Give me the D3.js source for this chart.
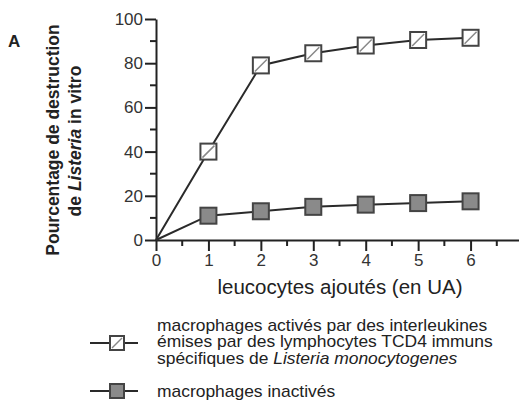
<!DOCTYPE html>
<html>
<head>
<meta charset="utf-8">
<script src="https://d3js.org/d3.v7.min.js"></script>
<style>
  body { margin: 0; background: #fff; }
  svg text { font-family: "Liberation Sans", Arial, sans-serif; fill: #222; }
</style>
</head>
<body>
<script>

// chart values
var doses = [0, 1, 2, 3, 4, 5, 6];
var activated = [0, 40, 79, 84.5, 88, 90.5, 91.5];
var inactivated = [0, 11, 13, 15, 16, 16.7, 17.5];
var xTicks = [0, 1, 2, 3, 4, 5, 6];
var yTicks = [0, 20, 40, 60, 80, 100];
var legendLines = [
  ["macrophages activés par des interleukines"],
  ["émises par des lymphocytes TCD4 immuns"],
  ["spécifiques de ", "Listeria monocytogenes"]
];

var width = 519, height = 404;

var svg = d3.select("body").append("svg")
  .attr("width", width)
  .attr("height", height);

// scales
var x = d3.scaleLinear().domain([0, 7]).range([156, 523]);
var y = d3.scaleLinear().domain([0, 100]).range([240, 19]);

// y axis
var yAxis = svg.append("g")
  .attr("transform", "translate(" + x(0) + ",0)")
  .call(d3.axisLeft(y).tickValues(yTicks).tickSize(11).tickPadding(2).tickSizeOuter(0));
yAxis.select(".domain").attr("stroke", "#222").attr("stroke-width", 2);
yAxis.selectAll(".tick line").attr("stroke", "#222").attr("stroke-width", 2);
yAxis.selectAll(".tick text").attr("font-size", 17).style("fill", "#333");
// minor y ticks
svg.append("g").selectAll("line")
  .data([10, 30, 50, 70, 90])
  .enter().append("line")
  .attr("x1", x(0) - 6).attr("x2", x(0))
  .attr("y1", function(d) { return y(d); })
  .attr("y2", function(d) { return y(d); })
  .attr("stroke", "#222").attr("stroke-width", 2);

// x axis
var xAxis = svg.append("g")
  .attr("transform", "translate(0," + y(0) + ")")
  .call(d3.axisBottom(x).tickValues(xTicks).tickFormat(d3.format("d"))
    .tickSize(11).tickPadding(3).tickSizeOuter(0));
xAxis.select(".domain").attr("stroke", "#222").attr("stroke-width", 2);
xAxis.selectAll(".tick line").attr("stroke", "#222").attr("stroke-width", 2);
xAxis.selectAll(".tick text").attr("font-size", 17).style("fill", "#333");
// minor x ticks
svg.append("g").selectAll("line")
  .data([0.5, 1.5, 2.5, 3.5, 4.5, 5.5, 6.5])
  .enter().append("line")
  .attr("x1", function(d) { return x(d); })
  .attr("x2", function(d) { return x(d); })
  .attr("y1", y(0)).attr("y2", y(0) + 6)
  .attr("stroke", "#222").attr("stroke-width", 2);

// lines
var line = d3.line()
  .x(function(d, i) { return x(doses[i]); })
  .y(function(d) { return y(d); });

svg.append("path").datum(activated)
  .attr("d", line).attr("fill", "none")
  .attr("stroke", "#2a2a2a").attr("stroke-width", 2);
svg.append("path").datum(inactivated)
  .attr("d", line).attr("fill", "none")
  .attr("stroke", "#2a2a2a").attr("stroke-width", 2);

// marker drawing
function hatchSquare(g, cx, cy, s) {
  g.append("rect")
    .attr("x", cx - s / 2).attr("y", cy - s / 2)
    .attr("width", s).attr("height", s)
    .attr("fill", "#fff").attr("stroke", "#444").attr("stroke-width", 2);
  g.append("line")
    .attr("x1", cx - s / 2 + 2).attr("y1", cy + s / 2 - 2)
    .attr("x2", cx + s / 2 - 2).attr("y2", cy - s / 2 + 2)
    .attr("stroke", "#888").attr("stroke-width", 1.5);
}
function graySquare(g, cx, cy, s) {
  g.append("rect")
    .attr("x", cx - s / 2).attr("y", cy - s / 2)
    .attr("width", s).attr("height", s)
    .attr("fill", "#8a8a8a").attr("stroke", "#444").attr("stroke-width", 2);
}

var markers = svg.append("g");
activated.forEach(function(v, i) {
  if (doses[i] > 0) hatchSquare(markers, x(doses[i]), y(v), 16);
});
inactivated.forEach(function(v, i) {
  if (doses[i] > 0) graySquare(markers, x(doses[i]), y(v), 16);
});

// panel letter
svg.append("text")
  .attr("x", 8).attr("y", 47)
  .attr("font-size", 17).attr("font-weight", "bold")
  .text("A");

// y axis title
svg.append("text")
  .attr("transform", "translate(59,140) rotate(-90)")
  .attr("text-anchor", "middle")
  .attr("font-size", 17.5).attr("font-weight", "bold")
  .text("Pourcentage de destruction");
var yt2 = svg.append("text")
  .attr("transform", "translate(81,141) rotate(-90)")
  .attr("text-anchor", "middle")
  .attr("font-size", 17.5).attr("font-weight", "bold");
yt2.append("tspan").text("de ");
yt2.append("tspan").attr("font-style", "italic").text("Listeria");
yt2.append("tspan").text(" in vitro");

// x axis title
svg.append("text")
  .attr("x", 340).attr("y", 294)
  .attr("text-anchor", "middle")
  .attr("font-size", 20.5)
  .text("leucocytes ajoutés (en UA)");

// legend
var leg = svg.append("g");
leg.append("line").attr("x1", 90).attr("x2", 138).attr("y1", 343).attr("y2", 343)
  .attr("stroke", "#2a2a2a").attr("stroke-width", 2);
hatchSquare(leg, 117, 343, 14);
leg.append("line").attr("x1", 90).attr("x2", 138).attr("y1", 391).attr("y2", 391)
  .attr("stroke", "#2a2a2a").attr("stroke-width", 2);
graySquare(leg, 117, 391, 14);

// legend text is a bit wide and short in the source, so stretch it horizontally
var legText = leg.append("g")
  .attr("transform", "translate(157,0) scale(1.09,1)");
legendLines.forEach(function(parts, i) {
  var t = legText.append("text")
    .attr("x", 0).attr("y", 331 + i * 16.5)
    .attr("font-size", 16);
  parts.forEach(function(p, j) {
    var ts = t.append("tspan").text(p);
    if (j === 1) ts.attr("font-style", "italic");
  });
});
legText.append("text")
  .attr("x", 0).attr("y", 397)
  .attr("font-size", 16)
  .text("macrophages inactivés");

</script>
</body>
</html>
